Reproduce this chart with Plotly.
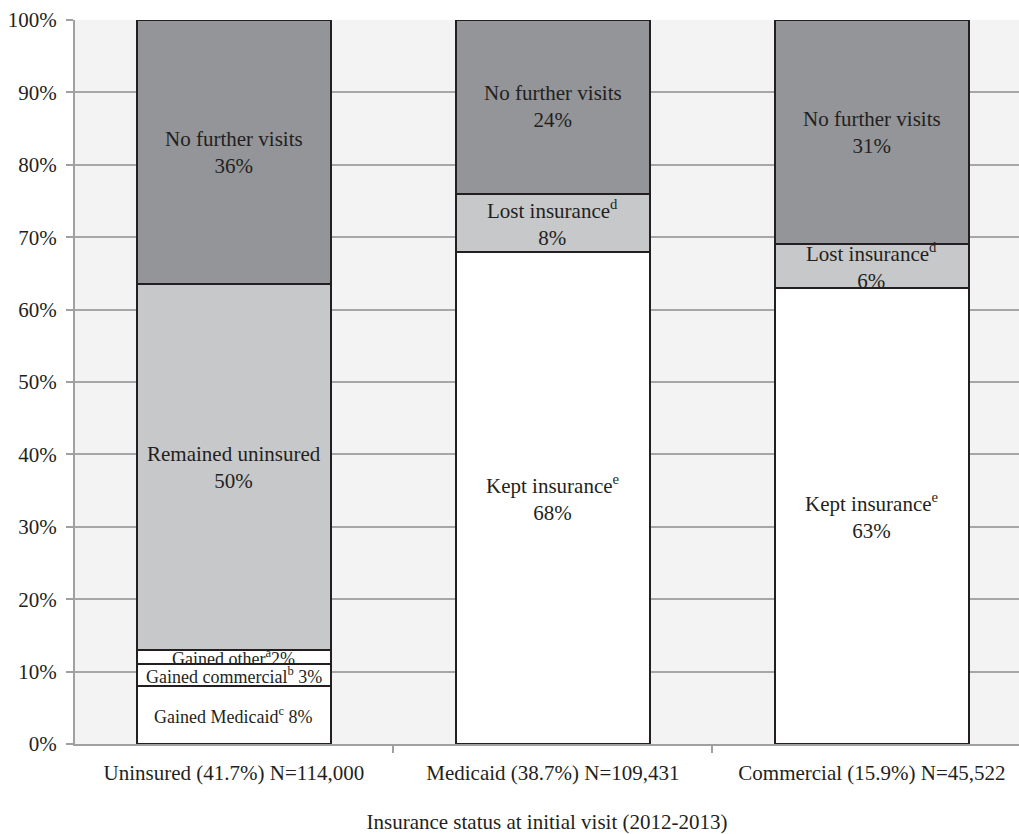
import plotly.graph_objects as go

# Insurance status groups at the initial visit (x categories)
categories = [
    "Uninsured (41.7%) N=114,000",
    "Medicaid (38.7%) N=109,431",
    "Commercial (15.9%) N=45,522",
]

# Follow-up outcome shares (%) per group, stacked bottom to top
uninsured_labels = [
    "Gained Medicaid<sup>c</sup> ",
    "Gained commercial<sup>b</sup> ",
    "Gained other<sup>a</sup>",
    "Remained uninsured<br>",
    "No further visits<br>",
]
uninsured_values = [8, 3, 2, 50.5, 36.5]

medicaid_labels = ["Kept insurance<sup>e</sup><br>", "Lost insurance<sup>d</sup><br>", "No further visits<br>"]
medicaid_values = [68, 8, 24]

commercial_labels = ["Kept insurance<sup>e</sup><br>", "Lost insurance<sup>d</sup><br>", "No further visits<br>"]
commercial_values = [63, 6, 31]

y_ticks = list(range(0, 101, 10))

groups = [
    (categories[0], uninsured_labels, uninsured_values),
    (categories[1], medicaid_labels, medicaid_values),
    (categories[2], commercial_labels, commercial_values),
]

TEXT = "#231f20"
FONT = "Liberation Serif"


def fill_for(label):
    if label.startswith("No further"):
        return "#939598"
    if label.startswith("Remained") or label.startswith("Lost"):
        return "#c7c8ca"
    return "#ffffff"


fig = go.Figure()
annotations = []
for cat, labels, values in groups:
    base = 0
    for label, v in zip(labels, values):
        fig.add_trace(go.Bar(
            x=[cat], y=[v],
            marker=dict(color=fill_for(label), line=dict(color=TEXT, width=2)),
            width=0.607,
            showlegend=False,
            hoverinfo="skip",
        ))
        annotations.append(dict(
            x=cat, y=base + v / 2, xref="x", yref="y",
            text=label + f"{round(v)}%",
            showarrow=False,
            font=dict(family=FONT, size=18 if label.startswith("Gained") else 21, color=TEXT),
            xanchor="center", yanchor="middle",
        ))
        base += v

fig.update_layout(
    barmode="stack",
    width=1019, height=834,
    margin=dict(l=75, r=0, t=20, b=90),
    paper_bgcolor="#ffffff",
    plot_bgcolor="#f3f3f3",
    font=dict(family=FONT, size=21, color=TEXT),
    annotations=annotations,
    xaxis=dict(
        type="category",
        categoryorder="array", categoryarray=categories,
        range=[-0.498, 2.461],
        showline=True, linecolor="#a0a0a0", linewidth=2,
        ticks="outside", tickson="boundaries", ticklen=7, tickwidth=2, tickcolor="#a0a0a0",
        ticklabelstandoff=9,
        showgrid=False,
        tickfont=dict(family=FONT, size=21, color=TEXT),
        title=dict(text="Insurance status at initial visit (2012-2013)",
                   font=dict(family=FONT, size=21, color=TEXT), standoff=31),
    ),
    yaxis=dict(
        range=[0, 100],
        tickvals=y_ticks,
        ticktext=[f"{t}%" for t in y_ticks],
        showline=True, linecolor="#a0a0a0", linewidth=2,
        ticks="outside", ticklen=7, tickwidth=2, tickcolor="#a0a0a0",
        ticklabelstandoff=5,
        showgrid=True, gridcolor="#a6a6a6", gridwidth=2,
        zeroline=False,
        tickfont=dict(family=FONT, size=21, color=TEXT),
    ),
)

fig.write_html("out.html")
